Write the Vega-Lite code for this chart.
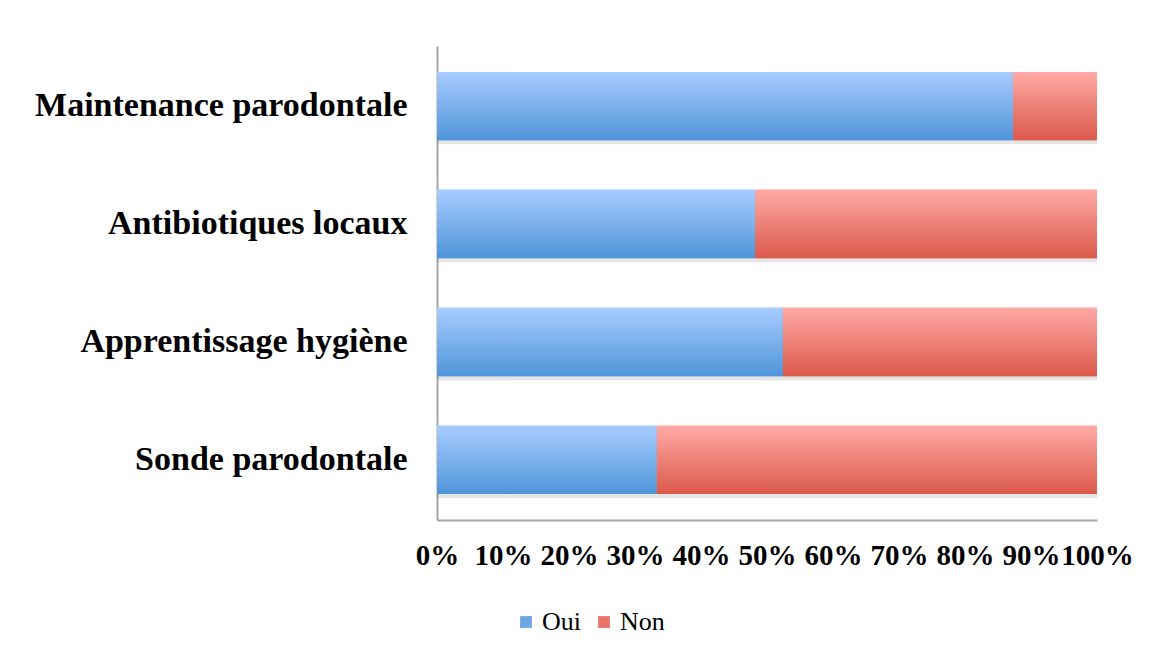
{
  "$schema": "https://vega.github.io/schema/vega-lite/v6.json",
  "width": 660,
  "height": 474,
  "autosize": {"type": "none"},
  "padding": {"left": 437, "top": 46, "right": 54, "bottom": 134},
  "background": "white",
  "data": {
    "values": [
      {"cat": "Maintenance parodontale", "rep": "Oui", "val": 87.3},
      {"cat": "Maintenance parodontale", "rep": "Non", "val": 12.7},
      {"cat": "Antibiotiques locaux", "rep": "Oui", "val": 48.2},
      {"cat": "Antibiotiques locaux", "rep": "Non", "val": 51.8},
      {"cat": "Apprentissage hygiène", "rep": "Oui", "val": 52.4},
      {"cat": "Apprentissage hygiène", "rep": "Non", "val": 47.6},
      {"cat": "Sonde parodontale", "rep": "Oui", "val": 33.3},
      {"cat": "Sonde parodontale", "rep": "Non", "val": 66.7}
    ]
  },
  "encoding": {
    "y": {
      "field": "cat",
      "type": "nominal",
      "sort": ["Maintenance parodontale", "Antibiotiques locaux", "Apprentissage hygiène", "Sonde parodontale"],
      "scale": {"paddingInner": 0.42, "paddingOuter": 0.22},
      "axis": {
        "title": null,
        "ticks": false,
        "domainColor": "#a6a6a6",
        "domainWidth": 2,
        "labelFont": "Liberation Serif",
        "labelFontWeight": "bold",
        "labelFontSize": 34,
        "labelColor": "black",
        "labelPadding": 30,
        "labelLimit": 600
      }
    },
    "x": {
      "field": "val",
      "type": "quantitative",
      "stack": "normalize",
      "scale": {"domain": [0, 1], "nice": false},
      "axis": {
        "title": null,
        "values": [0, 0.1, 0.2, 0.3, 0.4, 0.5, 0.6, 0.7, 0.8, 0.9, 1],
        "format": ".0%",
        "grid": false,
        "ticks": false,
        "domainColor": "#a6a6a6",
        "domainWidth": 2,
        "labelFont": "Liberation Serif",
        "labelFontWeight": "bold",
        "labelFontSize": 29,
        "labelColor": "black",
        "labelPadding": 21,
        "labelFlush": false,
        "labelOverlap": false
      }
    },
    "order": {"field": "rep", "sort": "descending"}
  },
  "layer": [
    {
      "mark": {"type": "bar", "color": "#000000", "opacity": 0.1, "yOffset": 4},
      "encoding": {"detail": {"field": "rep"}}
    },
    {
      "mark": {"type": "bar"},
      "encoding": {
        "color": {
          "field": "rep",
          "type": "nominal",
          "sort": ["Oui", "Non"],
          "scale": {"domain": ["Oui", "Non"], "range": ["#6fa7e6", "#e8736a"]},
          "legend": {
            "title": null,
            "orient": "none",
            "direction": "horizontal",
            "legendX": 76,
            "legendY": 563,
            "symbolType": "square",
            "symbolSize": 140,
            "symbolStrokeWidth": 0,
            "symbolOpacity": 1,
            "labelFont": "Liberation Serif",
            "labelFontSize": 26,
            "labelColor": "black",
            "labelOffset": 3,
            "columnPadding": 10
          }
        }
      }
    },
    {
      "mark": {"type": "bar"},
      "encoding": {
        "detail": {"field": "rep"},
        "color": {
          "condition": {
            "test": "datum.rep === 'Oui'",
            "value": {"gradient": "linear", "x1": 0, "y1": 0, "x2": 0, "y2": 1, "stops": [{"offset": 0, "color": "#a8ccff"}, {"offset": 1, "color": "#4f95d9"}]}
          },
          "value": {"gradient": "linear", "x1": 0, "y1": 0, "x2": 0, "y2": 1, "stops": [{"offset": 0, "color": "#ffa9a5"}, {"offset": 1, "color": "#db594b"}]}
        }
      }
    }
  ],
  "config": {"view": {"stroke": null}}
}
